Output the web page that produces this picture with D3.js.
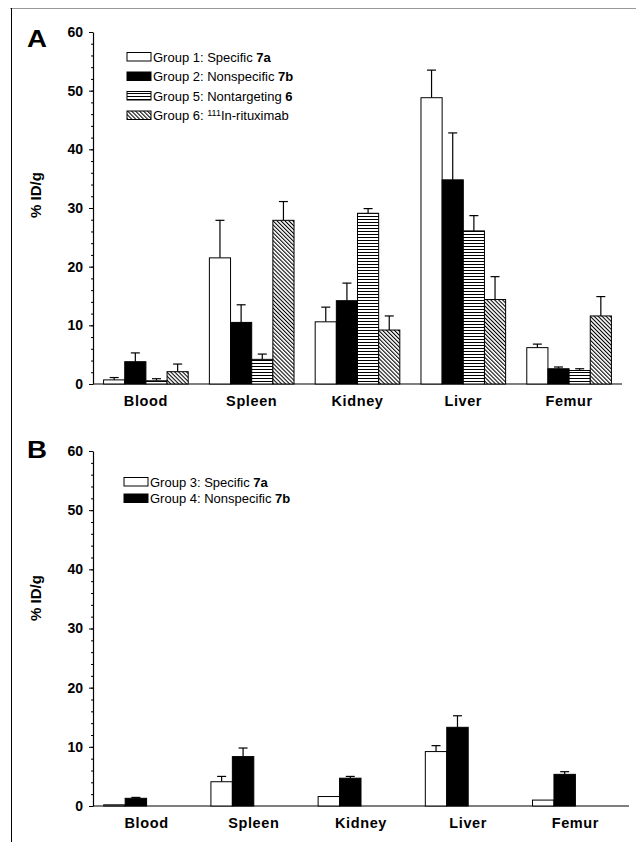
<!DOCTYPE html>
<html>
<head>
<meta charset="utf-8">
<script src="https://cdn.jsdelivr.net/npm/d3@7"></script>
<style>
  body { margin: 0; background: #fff; }
  svg { display: block; }
  .tick text, .cat { font-family: "Liberation Sans", Arial, sans-serif; font-weight: bold; }
  .leg { font-family: "Liberation Sans", Arial, sans-serif; font-size: 13px; }
</style>
</head>
<body>
<script>
// organs along the x axis
var organs = ["Blood", "Spleen", "Kidney", "Liver", "Femur"];
var yTicks = [0, 10, 20, 30, 40, 50, 60];

// panel A, mean %ID/g and upper error (SD)
var g1Mean = [0.7, 21.5, 10.6, 48.8, 6.2];
var g1Err  = [0.4, 6.4, 2.5, 4.7, 0.6];
var g2Mean = [3.8, 10.5, 14.2, 34.8, 2.6];
var g2Err  = [1.5, 3.0, 3.0, 8.0, 0.3];
var g5Mean = [0.55, 4.2, 29.1, 26.1, 2.3];
var g5Err  = [0.35, 0.9, 0.8, 2.6, 0.3];
var g6Mean = [2.1, 27.9, 9.2, 14.4, 11.6];
var g6Err  = [1.3, 3.2, 2.4, 3.9, 3.3];

// panel B
var g3Mean = [0.2, 4.1, 1.6, 9.2, 1.0];
var g3Err  = [0, 0.9, 0, 1.0, 0];
var g4Mean = [1.3, 8.35, 4.7, 13.3, 5.35];
var g4Err  = [0.15, 1.45, 0.3, 1.95, 0.45];

var svg = d3.select("body").append("svg")
    .attr("width", 636)
    .attr("height", 842);

var defs = svg.append("defs");
var hl = defs.append("pattern").attr("id", "hlines")
    .attr("patternUnits", "userSpaceOnUse").attr("width", 4).attr("height", 3);
hl.append("rect").attr("width", 4).attr("height", 3).attr("fill", "#fff");
hl.append("line").attr("x1", 0).attr("x2", 4).attr("y1", 0.5).attr("y2", 0.5)
    .attr("stroke", "#000").attr("stroke-width", 1);
var dg = defs.append("pattern").attr("id", "diag")
    .attr("patternUnits", "userSpaceOnUse").attr("width", 2.8).attr("height", 3)
    .attr("patternTransform", "rotate(-45)");
dg.append("rect").attr("width", 2.8).attr("height", 3).attr("fill", "#fff");
dg.append("line").attr("x1", 0.5).attr("x2", 0.5).attr("y1", 0).attr("y2", 3)
    .attr("stroke", "#000").attr("stroke-width", 1.1);

// frame lines
svg.append("line").attr("x1", 10).attr("x2", 636).attr("y1", 8.5).attr("y2", 8.5)
    .attr("stroke", "#999");
svg.append("line").attr("x1", 11.5).attr("x2", 11.5).attr("y1", 8).attr("y2", 842)
    .attr("stroke", "#000");

function drawPanel(opt) {
    var g = svg.append("g");
    var x0 = d3.scaleBand().domain(organs).range([93, opt.xEnd])
        .paddingInner(0.2).paddingOuter(0.1);
    var x1 = d3.scaleBand().domain(d3.range(4)).range([0, x0.bandwidth()]);
    var y = d3.scaleLinear().domain([0, 60]).range([opt.y0, opt.y60]);

    // minor ticks
    g.append("g").attr("transform", "translate(93,0)")
        .call(d3.axisLeft(y).tickValues(d3.range(0, 61, 2)).tickSize(2).tickFormat(""))
        .call(function(a) { a.select(".domain").remove(); });
    var ax = g.append("g").attr("transform", "translate(93,0)")
        .call(d3.axisLeft(y).tickValues(yTicks).tickSize(4).tickSizeOuter(0).tickPadding(6));
    ax.selectAll("text").style("font-size", "14px");
    ax.select(".domain").attr("stroke-width", 1.2);

    // x axis line and labels
    g.append("line").attr("x1", 93).attr("x2", opt.xEnd)
        .attr("y1", y(0)).attr("y2", y(0)).attr("stroke", "#000").attr("stroke-width", 1.2);
    g.selectAll(".cat").data(organs).enter().append("text")
        .attr("class", "cat")
        .attr("x", function(d) { return x0(d) + x0.bandwidth() / 2; })
        .attr("y", y(0) + 22)
        .attr("text-anchor", "middle")
        .style("font-size", "14.5px")
        .style("letter-spacing", "0.6px")
        .text(function(d) { return d; });

    opt.series.forEach(function(s, si) {
        var sg = g.append("g");
        var rows = organs.map(function(o, i) { return {o: o, v: s.mean[i], e: s.err[i]}; });
        sg.selectAll("line.err").data(rows).enter().append("line")
            .attr("class", "err")
            .attr("x1", function(d) { return x0(d.o) + x1(si) + x1.bandwidth() / 2; })
            .attr("x2", function(d) { return x0(d.o) + x1(si) + x1.bandwidth() / 2; })
            .attr("y1", function(d) { return y(d.v); })
            .attr("y2", function(d) { return y(d.v + d.e); })
            .attr("stroke", "#000").attr("stroke-width", 1.2);
        sg.selectAll("line.cap").data(rows.filter(function(d) { return d.e > 0; })).enter().append("line")
            .attr("class", "cap")
            .attr("x1", function(d) { return x0(d.o) + x1(si) + x1.bandwidth() / 2 - 4.5; })
            .attr("x2", function(d) { return x0(d.o) + x1(si) + x1.bandwidth() / 2 + 4.5; })
            .attr("y1", function(d) { return y(d.v + d.e); })
            .attr("y2", function(d) { return y(d.v + d.e); })
            .attr("stroke", "#000").attr("stroke-width", 1.2);
        sg.selectAll("rect").data(rows).enter().append("rect")
            .attr("x", function(d) { return x0(d.o) + x1(si); })
            .attr("y", function(d) { return y(d.v); })
            .attr("width", x1.bandwidth())
            .attr("height", function(d) { return y(0) - y(d.v); })
            .attr("fill", s.fill).attr("stroke", "#000").attr("stroke-width", 1);
    });

    // panel letter
    g.append("text").attr("x", 27).attr("y", opt.letterY)
        .attr("textLength", 20).attr("lengthAdjust", "spacingAndGlyphs")
        .style("font-family", "Liberation Sans, Arial, sans-serif")
        .style("font-weight", "bold").style("font-size", "24px")
        .text(opt.letter);

    // y label
    g.append("text")
        .attr("transform", "translate(41," + opt.labelY + ") rotate(-90)")
        .attr("text-anchor", "middle")
        .style("font-family", "Liberation Sans, Arial, sans-serif")
        .style("font-weight", "bold").style("font-size", "15px")
        .text("% ID/g");

    // legend
    var lg = g.append("g");
    opt.series.forEach(function(s, i) {
        var ly = opt.legY + i * opt.legStep;
        lg.append("rect").attr("x", opt.legX).attr("y", ly - 4.5)
            .attr("width", 24).attr("height", 8.5)
            .attr("fill", s.fill).attr("stroke", "#000").attr("stroke-width", 1);
        var t = lg.append("text").attr("class", "leg")
            .attr("x", opt.legX + 26).attr("y", ly + 4.5);
        s.label.forEach(function(p) {
            var ts = t.append("tspan").text(p.t);
            if (p.b) ts.style("font-weight", "bold");
            if (p.sup) ts.attr("dy", -4).style("font-size", "9px");
            if (p.after) ts.attr("dy", 4);
        });
    });
}

drawPanel({
    letter: "A", y0: 384, y60: 32, xEnd: 622, labelY: 195, letterY: 47,
    legX: 127, legY: 57, legStep: 19.5,
    series: [
        {mean: g1Mean, err: g1Err, fill: "#fff",
         label: [{t: "Group 1: Specific "}, {t: "7a", b: true}]},
        {mean: g2Mean, err: g2Err, fill: "#000",
         label: [{t: "Group 2: Nonspecific "}, {t: "7b", b: true}]},
        {mean: g5Mean, err: g5Err, fill: "url(#hlines)",
         label: [{t: "Group 5: Nontargeting "}, {t: "6", b: true}]},
        {mean: g6Mean, err: g6Err, fill: "url(#diag)",
         label: [{t: "Group 6: "}, {t: "111", sup: true}, {t: "In-rituximab", after: true}]}
    ]
});

drawPanel({
    letter: "B", y0: 806, y60: 451, xEnd: 629, labelY: 598, letterY: 458,
    legX: 124, legY: 482, legStep: 16.5,
    series: [
        {mean: g3Mean, err: g3Err, fill: "#fff",
         label: [{t: "Group 3: Specific "}, {t: "7a", b: true}]},
        {mean: g4Mean, err: g4Err, fill: "#000",
         label: [{t: "Group 4: Nonspecific "}, {t: "7b", b: true}]}
    ]
});
</script>
</body>
</html>
